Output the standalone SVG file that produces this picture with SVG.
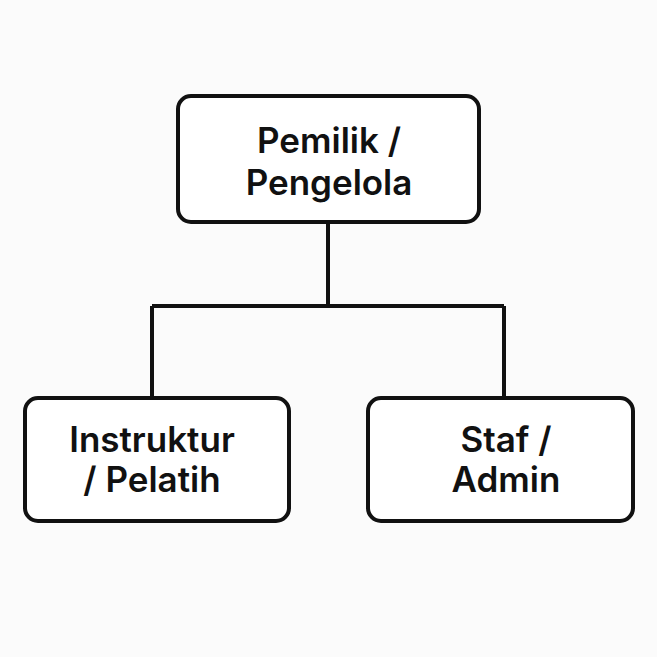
<svg xmlns="http://www.w3.org/2000/svg" width="657" height="657" viewBox="0 0 657 657">
<style>
.box{fill:#fff;stroke:#111;stroke-width:4}
.t{font-family:"Inter","Liberation Sans",sans-serif;font-weight:600;font-size:35px;fill:#111;text-anchor:middle}
.c{fill:none;stroke:#111;stroke-width:4}
</style>
<rect width="657" height="657" fill="#fbfbfb"/>
<g id="connectors">
<path class="c" d="M328 222V306M152 306H504M152 306V398M504 306V398"/>
</g>
<g id="owner">
<rect class="box" x="178" y="96" width="301" height="126" rx="13"/>
<text class="t" x="329" y="153">Pemilik /</text>
<text class="t" x="329" y="195">Pengelola</text>
</g>
<g id="instruktur">
<rect class="box" x="25" y="398" width="264" height="123" rx="13"/>
<text class="t" x="152" y="452">Instruktur</text>
<text class="t" x="152" y="492">/ Pelatih</text>
</g>
<g id="staf">
<rect class="box" x="368" y="398" width="265" height="123" rx="13"/>
<text class="t" x="506" y="452">Staf /</text>
<text class="t" x="506" y="492">Admin</text>
</g>
</svg>
